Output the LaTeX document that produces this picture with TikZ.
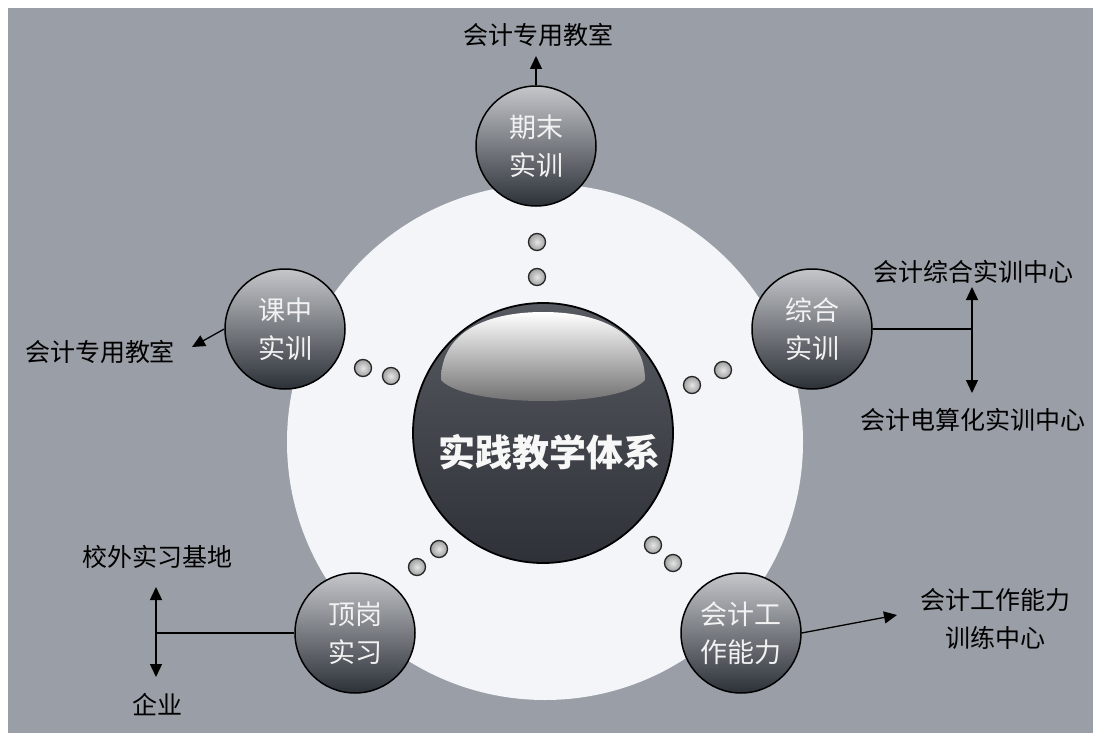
\documentclass[tikz,border=0pt]{standalone}
\usepackage{fontspec}
\newfontfamily\cjk{Noto Sans CJK SC}
\usepackage{xcolor}
\usetikzlibrary{arrows.meta}
\definecolor{bg}{RGB}{154,158,166}
\definecolor{disc}{RGB}{243,245,249}
\definecolor{balltop}{RGB}{196,198,202}
\definecolor{ballmid}{RGB}{124,128,134}
\definecolor{ballbot}{RGB}{44,49,56}
\definecolor{coretop}{RGB}{86,89,95}
\definecolor{coremid}{RGB}{106,109,115}
\definecolor{corebot}{RGB}{46,49,55}

\begin{document}
\begin{tikzpicture}[x=1pt, y=-1pt, line width=1.3pt, >={Triangle[length=13pt,width=12pt]}]
\tikzstyle{ball} = [circle, draw=black, line width=1.5pt, minimum size=120, inner sep=0pt,
	top color=balltop, middle color=ballmid, bottom color=ballbot,
	text=white!90!gray, align=center, font=\cjk\fontsize{27}{38}\selectfont]
\tikzstyle{dot} = [circle, draw=black!85, line width=1.3pt, minimum size=17, inner sep=0pt,
	inner color=gray!20, outer color=gray!75]
\tikzstyle{lbl} = [inner sep=0pt, align=center, text=black, font=\cjk\fontsize{25}{38}\selectfont]
\useasboundingbox (0,0) rectangle (1093,733);
\fill[white] (0,0) rectangle (1093,733);
\fill[bg] (8,8) rectangle (1093,733);
\fill[disc] (545,442) circle[radius=258pt];
% core
\node (c) at (543,433) [circle, draw=black, line width=1.8pt, minimum size=260, inner sep=0pt,
	top color=coretop, middle color=coremid, bottom color=corebot] {};
\shade[top color=white, bottom color=gray!80!black] (441,380) .. controls (441,330) and (490,312) .. (543,312)
	.. controls (596,312) and (645,330) .. (645,380)
	.. controls (620,408) and (466,408) .. (441,380) -- cycle;
\node[text=white!94!gray, font=\cjk\bfseries\fontsize{37}{37}\selectfont] at (549,452) {实践教学体系};
% balls
\node[ball] (n) at (536,146) {期末\\实训};
\node[ball] (w) at (285,329) {课中\\实训};
\node[ball] (e) at (812,329) {综合\\实训};
\node[ball] (sw) at (355,633) {顶岗\\实习};
\node[ball] (se) at (741,633) {会计工\\作能力};
% dots
\node[dot] (n1) at (537,242) {};
\node[dot] (n2) at (537,277) {};
\node[dot] (w1) at (363,368) {};
\node[dot] (w2) at (391,376) {};
\node[dot] (e1) at (692,385) {};
\node[dot] (e2) at (723,370) {};
\node[dot] (sw1) at (417,567) {};
\node[dot] (sw2) at (439,549) {};
\node[dot] (se1) at (653,545) {};
\node[dot] (se2) at (673,563) {};
% labels
\node[lbl] (ln) at (538,35) {会计专用教室};
\node[lbl] (lw) at (100,352) {会计专用教室};
\node[lbl] (le1) at (973,272) {会计综合实训中心};
\node[lbl] (le2) at (973,420) {会计电算化实训中心};
\node[lbl] (lsw1) at (157,557) {校外实习基地};
\node[lbl] (lsw2) at (157,705) {企业};
\node[lbl] (lse) at (995,619) {会计工作能力\\训练中心};
% connectors
\coordinate (tn) at (536,56);
\coordinate (tw) at (192,347);
\coordinate (ej) at (972,329);
\coordinate (et) at (972,287);
\coordinate (eb) at (972,393);
\coordinate (swj) at (156,633);
\coordinate (swt) at (156,587);
\coordinate (swb) at (156,677);
\coordinate (tse) at (897,615);
\draw[->] (n) -- (tn);
\draw[->] (w.west) -- (tw);
\draw (e) -- (ej);
\draw[->] (ej) -- (et);
\draw[->] (ej) -- (eb);
\draw (sw) -- (swj);
\draw[->] (swj) -- (swt);
\draw[->] (swj) -- (swb);
\draw[->] (se.east) -- (tse);
\end{tikzpicture}
\end{document}
